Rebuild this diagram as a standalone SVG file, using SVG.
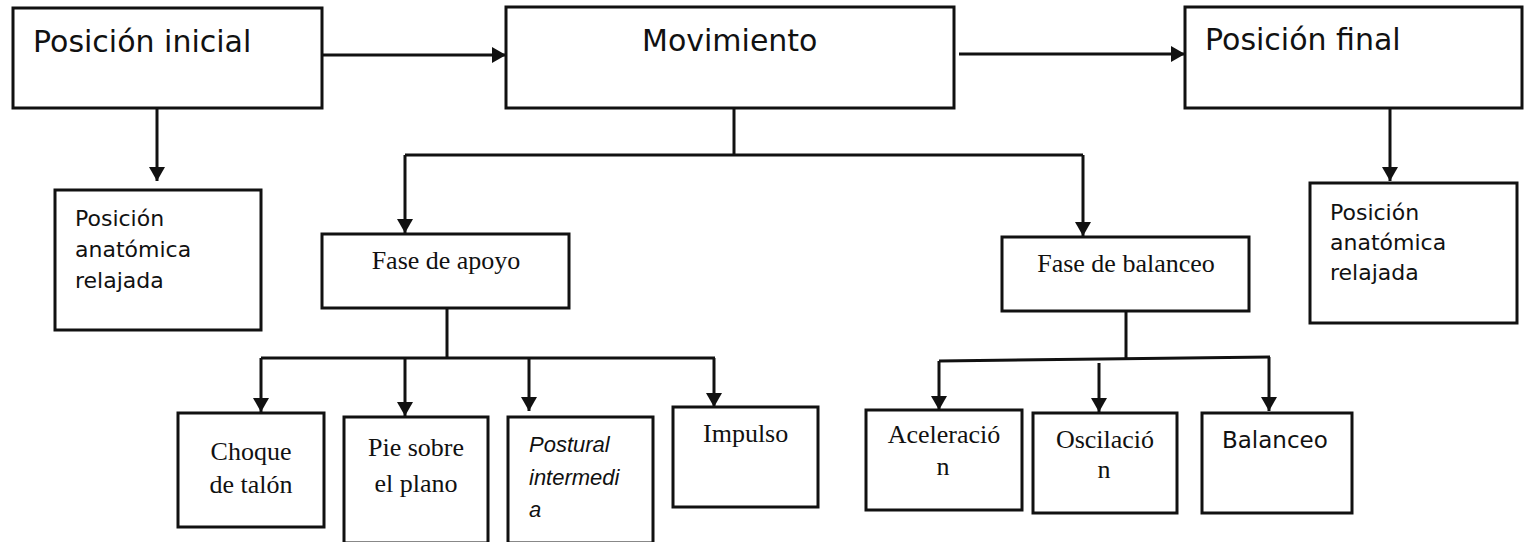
<svg xmlns="http://www.w3.org/2000/svg" width="1525" height="542" viewBox="0 0 1525 542">
  <style>
    .box { fill: #ffffff; stroke: #111111; stroke-width: 3; }
    .link { fill: none; stroke: #111111; stroke-width: 3; }
    .arrow { fill: none; stroke: #111111; stroke-width: 3; marker-end: url(#head); }
    .sans { font-family: "DejaVu Sans", Verdana, sans-serif; fill: #111111; }
    .big { font-size: 30px; }
    .mid { font-size: 22px; }
    .serif { font-family: "Liberation Serif", "Times New Roman", serif; font-size: 26px; fill: #111111; }
    .ital { font-family: "Liberation Sans", Arial, sans-serif; font-style: italic; font-size: 22px; fill: #111111; }
    .c { text-anchor: middle; }
  </style>
  <defs>
    <marker id="head" markerUnits="userSpaceOnUse" markerWidth="16" markerHeight="16" refX="14" refY="8" orient="auto">
      <path d="M0,0 L14,8 L0,16 z" fill="#111111"/>
    </marker>
  </defs>

  <rect width="1525" height="542" fill="#ffffff"/>

  <!-- connectors -->
  <g id="connectors">
    <path class="arrow" d="M322,55 H506"/>
    <path class="arrow" d="M959,54 H1185"/>
    <path class="arrow" d="M157,108 V181"/>
    <path class="arrow" d="M1390,108 V181"/>
    <path class="link" d="M734,108 V155"/>
    <path class="link" d="M405,155 H1083"/>
    <path class="arrow" d="M405,155 V233"/>
    <path class="arrow" d="M1083,155 V236"/>
    <path class="link" d="M447,308 V358"/>
    <path class="link" d="M261,358 H715"/>
    <path class="arrow" d="M261,358 V412"/>
    <path class="arrow" d="M405,358 V416"/>
    <path class="arrow" d="M529,358 V411"/>
    <path class="arrow" d="M714,358 V407"/>
    <path class="link" d="M1126,311 V360"/>
    <path class="link" d="M939,361 L1270,357"/>
    <path class="arrow" d="M939,361 V410"/>
    <path class="arrow" d="M1099,363 V412"/>
    <path class="arrow" d="M1269,357 V411"/>
  </g>

  <!-- top row -->
  <g id="posicion-inicial">
    <rect class="box" x="13" y="8" width="309" height="100"/>
    <text class="sans big" x="33" y="52">Posición inicial</text>
  </g>
  <g id="movimiento">
    <rect class="box" x="506" y="7" width="448" height="101"/>
    <text class="sans big" x="642" y="51">Movimiento</text>
  </g>
  <g id="posicion-final">
    <rect class="box" x="1185" y="7" width="337" height="101"/>
    <text class="sans big" x="1205" y="50">Posición final</text>
  </g>

  <!-- relaxed positions -->
  <g id="relajada-inicial">
    <rect class="box" x="55" y="190" width="206" height="140"/>
    <text class="sans mid" x="75" y="226">Posición</text>
    <text class="sans mid" x="75" y="257">anatómica</text>
    <text class="sans mid" x="75" y="288">relajada</text>
  </g>
  <g id="relajada-final">
    <rect class="box" x="1310" y="183" width="207" height="140"/>
    <text class="sans mid" x="1330" y="220">Posición</text>
    <text class="sans mid" x="1330" y="250">anatómica</text>
    <text class="sans mid" x="1330" y="280">relajada</text>
  </g>

  <!-- phases -->
  <g id="fase-apoyo">
    <rect class="box" x="322" y="234" width="247" height="74"/>
    <text class="serif c" x="446" y="269">Fase de apoyo</text>
  </g>
  <g id="fase-balanceo">
    <rect class="box" x="1002" y="237" width="247" height="74"/>
    <text class="serif c" x="1126" y="272">Fase de balanceo</text>
  </g>

  <!-- stance sub-phases -->
  <g id="choque">
    <rect class="box" x="178" y="413" width="146" height="114"/>
    <text class="serif c" x="251" y="460">Choque</text>
    <text class="serif c" x="251" y="493">de talón</text>
  </g>
  <g id="pie-plano">
    <rect class="box" x="344" y="417" width="144" height="126"/>
    <text class="serif c" x="416" y="456">Pie sobre</text>
    <text class="serif c" x="416" y="492">el plano</text>
  </g>
  <g id="postural">
    <rect class="box" x="508" y="417" width="145" height="126"/>
    <text class="ital" x="529" y="452">Postural</text>
    <text class="ital" x="529" y="485">intermedi</text>
    <text class="ital" x="529" y="517">a</text>
  </g>
  <g id="impulso">
    <rect class="box" x="673" y="407" width="145" height="100"/>
    <text class="serif" x="703" y="442">Impulso</text>
  </g>

  <!-- swing sub-phases -->
  <g id="aceleracion">
    <rect class="box" x="866" y="410" width="156" height="100"/>
    <text class="serif c" x="944" y="443">Aceleració</text>
    <text class="serif c" x="943" y="475">n</text>
  </g>
  <g id="oscilacion">
    <rect class="box" x="1033" y="413" width="144" height="100"/>
    <text class="serif c" x="1105" y="448">Oscilació</text>
    <text class="serif c" x="1104" y="478">n</text>
  </g>
  <g id="balanceo">
    <rect class="box" x="1202" y="413" width="150" height="100"/>
    <text class="sans" x="1222" y="448" font-size="23">Balanceo</text>
  </g>
</svg>
